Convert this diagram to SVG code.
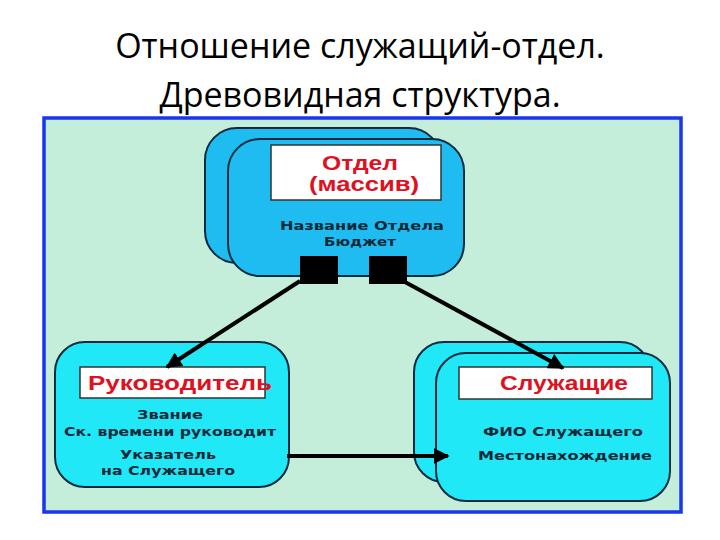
<svg xmlns="http://www.w3.org/2000/svg" width="720" height="540" viewBox="0 0 720 540">
<defs>
<marker id="ah" viewBox="0 0 10 10" refX="9" refY="5" markerWidth="4" markerHeight="4" orient="auto" markerUnits="strokeWidth">
<path d="M0,0 L10,5 L0,10 Z" fill="#000"/>
</marker>
</defs>
<style>
.title{font-family:"Open Sans","Liberation Sans",sans-serif;font-size:34px;fill:#000;text-anchor:middle}
.box1{fill:#1ebcf0;stroke:#0a2a40;stroke-width:2}
.box2{fill:#20e8f6;stroke:#0a2a40;stroke-width:2}
.lbl{fill:#fff;stroke:#333;stroke-width:1.5}
.red{font-family:"Liberation Sans",Arial,sans-serif;font-weight:bold;fill:#e01020;text-anchor:middle}
.txt{font-family:"DejaVu Sans",sans-serif;font-weight:bold;font-size:12.5px;fill:#102838;text-anchor:middle}
.conn{stroke:#000;stroke-width:4;fill:none;marker-end:url(#ah)}
</style>
<rect width="720" height="540" fill="#fff"/>
<text class="title" x="360" y="58">Отношение служащий-отдел.</text>
<text class="title" x="360" y="107">Древовидная структура.</text>
<rect x="44" y="118" width="637" height="394" fill="#c4eed9" stroke="#1836f0" stroke-width="3.5"/>
<g id="node-otdel">
<rect class="box1" x="205" y="128" width="236" height="135" rx="32"/>
<rect class="box1" x="228" y="139" width="236" height="137" rx="32"/>
<rect class="lbl" x="271" y="145" width="170" height="55"/>
<text class="red" x="360" y="170" font-size="20" textLength="76" lengthAdjust="spacingAndGlyphs">Отдел</text>
<text class="red" x="364" y="191" font-size="20" textLength="110" lengthAdjust="spacingAndGlyphs">(массив)</text>
<text class="txt" x="362" y="230" textLength="164" lengthAdjust="spacingAndGlyphs">Название Отдела</text>
<text class="txt" x="360" y="246" textLength="72" lengthAdjust="spacingAndGlyphs">Бюджет</text>
<rect x="300" y="256" width="38" height="28" fill="#000"/>
<rect x="369" y="256" width="38" height="28" fill="#000"/>
</g>
<g id="node-rukovoditel">
<rect class="box2" x="55" y="342" width="234" height="145" rx="30"/>
<rect class="lbl" x="80" y="367" width="185" height="31"/>
<text class="red" x="180" y="390" font-size="19.5" textLength="184" lengthAdjust="spacingAndGlyphs">Руководитель</text>
<text class="txt" x="170" y="419" textLength="66" lengthAdjust="spacingAndGlyphs">Звание</text>
<text class="txt" x="170" y="436" textLength="212" lengthAdjust="spacingAndGlyphs">Ск. времени руководит</text>
<text class="txt" x="168" y="459" textLength="96" lengthAdjust="spacingAndGlyphs">Указатель</text>
<text class="txt" x="168" y="475" textLength="134" lengthAdjust="spacingAndGlyphs">на Служащего</text>
</g>
<g id="node-sluzhashchie">
<rect class="box2" x="414" y="342" width="236" height="140" rx="30"/>
<rect class="box2" x="436" y="353" width="234" height="148" rx="30"/>
<rect class="lbl" x="459" y="367" width="193" height="32"/>
<text class="red" x="564" y="390" font-size="19.5" textLength="128" lengthAdjust="spacingAndGlyphs">Служащие</text>
<text class="txt" x="563" y="436" textLength="160" lengthAdjust="spacingAndGlyphs">ФИО Служащего</text>
<text class="txt" x="565" y="460" textLength="174" lengthAdjust="spacingAndGlyphs">Местонахождение</text>
</g>
<g id="connectors">
<line class="conn" x1="300" y1="281" x2="167" y2="367"/>
<line class="conn" x1="405" y1="282" x2="563" y2="368"/>
<line class="conn" x1="287" y1="456" x2="448" y2="456"/>
</g>
</svg>
